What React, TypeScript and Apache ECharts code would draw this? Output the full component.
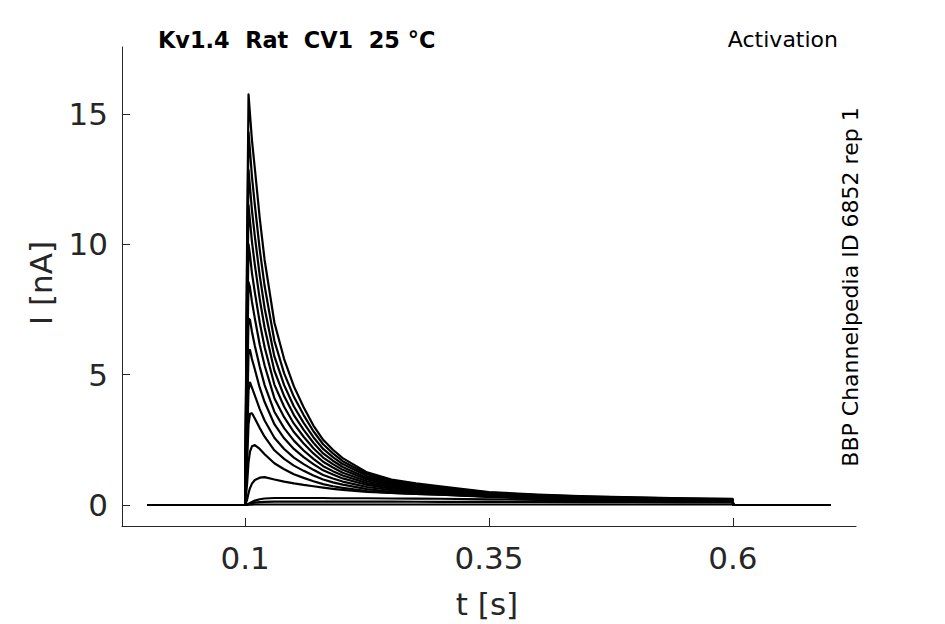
import React, { useEffect, useRef } from "react";
import * as echarts from "echarts";

// time grid (s)
const TIMES = [0, 0.1, 0.102, 0.1035, 0.105, 0.107, 0.11, 0.115, 0.12, 0.13, 0.14, 0.15, 0.16, 0.17, 0.18, 0.19, 0.2, 0.225, 0.25, 0.275, 0.3, 0.35, 0.4, 0.45, 0.5, 0.55, 0.5995, 0.6005, 0.7];

// current traces (nA), one per voltage step
const TRACE_1 = [0, 0, 10.0, 15.75, 15.0, 14.0, 12.9, 11.0, 9.4, 7.0, 5.6, 4.55, 3.75, 3.05, 2.5, 2.12, 1.8, 1.25, 0.98, 0.83, 0.72, 0.5, 0.4, 0.33, 0.29, 0.26, 0.24, 0, 0];
const TRACE_2 = [0, 0, 9.2, 14.3, 13.6, 12.6, 11.5, 9.8, 8.4, 6.3, 5.05, 4.15, 3.45, 2.83, 2.33, 1.98, 1.68, 1.18, 0.93, 0.79, 0.68, 0.48, 0.38, 0.32, 0.28, 0.25, 0.23, 0, 0];
const TRACE_3 = [0, 0, 8.3, 12.85, 12.2, 11.3, 10.3, 8.8, 7.55, 5.7, 4.6, 3.78, 3.15, 2.6, 2.15, 1.84, 1.57, 1.11, 0.88, 0.75, 0.65, 0.46, 0.37, 0.31, 0.27, 0.24, 0.22, 0, 0];
const TRACE_4 = [0, 0, 7.4, 11.5, 10.9, 10.1, 9.2, 7.9, 6.8, 5.15, 4.18, 3.45, 2.88, 2.39, 1.98, 1.7, 1.46, 1.04, 0.83, 0.71, 0.62, 0.44, 0.36, 0.3, 0.26, 0.23, 0.21, 0, 0];
const TRACE_5 = [0, 0, 6.4, 10.0, 9.6, 8.9, 8.15, 7.0, 6.05, 4.62, 3.77, 3.12, 2.62, 2.18, 1.82, 1.57, 1.35, 0.98, 0.78, 0.67, 0.59, 0.43, 0.35, 0.29, 0.25, 0.22, 0.2, 0, 0];
const TRACE_6 = [0, 0, 5.4, 8.55, 8.35, 7.8, 7.15, 6.15, 5.35, 4.1, 3.37, 2.8, 2.36, 1.98, 1.66, 1.44, 1.24, 0.91, 0.73, 0.63, 0.56, 0.41, 0.33, 0.28, 0.24, 0.21, 0.19, 0, 0];
const TRACE_7 = [0, 0, 4.4, 7.15, 7.1, 6.65, 6.1, 5.3, 4.6, 3.58, 2.95, 2.47, 2.09, 1.77, 1.49, 1.3, 1.13, 0.84, 0.68, 0.6, 0.53, 0.39, 0.32, 0.27, 0.23, 0.2, 0.18, 0, 0];
const TRACE_8 = [0, 0, 3.4, 5.8, 5.95, 5.6, 5.2, 4.5, 3.95, 3.1, 2.56, 2.15, 1.84, 1.57, 1.33, 1.17, 1.02, 0.77, 0.63, 0.56, 0.5, 0.37, 0.3, 0.25, 0.22, 0.19, 0.17, 0, 0];
const TRACE_9 = [0, 0, 2.4, 4.4, 4.7, 4.5, 4.2, 3.68, 3.24, 2.58, 2.15, 1.82, 1.57, 1.35, 1.15, 1.02, 0.9, 0.69, 0.57, 0.51, 0.46, 0.34, 0.28, 0.24, 0.21, 0.18, 0.16, 0, 0];
const TRACE_10 = [0, 0, 1.6, 3.1, 3.5, 3.52, 3.32, 2.95, 2.62, 2.1, 1.77, 1.51, 1.31, 1.13, 0.98, 0.87, 0.78, 0.61, 0.51, 0.46, 0.42, 0.32, 0.27, 0.23, 0.2, 0.17, 0.15, 0, 0];
const TRACE_11 = [0, 0, 0.8, 1.65, 2.05, 2.25, 2.3, 2.15, 1.95, 1.6, 1.37, 1.18, 1.04, 0.91, 0.8, 0.72, 0.66, 0.53, 0.46, 0.43, 0.4, 0.31, 0.25, 0.21, 0.18, 0.16, 0.14, 0, 0];
const TRACE_12 = [0, 0, 0.2, 0.45, 0.65, 0.82, 0.96, 1.05, 1.07, 0.98, 0.9, 0.83, 0.77, 0.72, 0.67, 0.62, 0.58, 0.5, 0.46, 0.43, 0.4, 0.33, 0.27, 0.23, 0.19, 0.16, 0.14, 0, 0];
const TRACE_13 = [0, 0, 0.02, 0.05, 0.08, 0.12, 0.17, 0.22, 0.25, 0.27, 0.27, 0.27, 0.27, 0.27, 0.27, 0.26, 0.26, 0.26, 0.25, 0.245, 0.24, 0.22, 0.2, 0.18, 0.16, 0.15, 0.13, 0, 0];
const TRACE_14 = [0, 0, 0.01, 0.03, 0.05, 0.07, 0.09, 0.11, 0.12, 0.13, 0.13, 0.13, 0.13, 0.13, 0.13, 0.13, 0.13, 0.13, 0.13, 0.125, 0.12, 0.12, 0.12, 0.11, 0.11, 0.1, 0.1, 0, 0];
const TRACE_15 = [0, 0, 0, 0.01, 0.01, 0.01, 0.02, 0.02, 0.02, 0.02, 0.02, 0.02, 0.02, 0.02, 0.02, 0.02, 0.02, 0.02, 0.02, 0.02, 0.02, 0.02, 0.02, 0.02, 0.02, 0.02, 0.02, 0, 0];

const TRACES = [TRACE_1, TRACE_2, TRACE_3, TRACE_4, TRACE_5, TRACE_6, TRACE_7, TRACE_8, TRACE_9, TRACE_10, TRACE_11, TRACE_12, TRACE_13, TRACE_14, TRACE_15];

const X_TICKS = [0.1, 0.35, 0.6];
const Y_TICKS = [0, 5, 10, 15];

const TITLE = "Kv1.4  Rat  CV1  25 °C";
const PROTOCOL = "Activation";
const SOURCE = "BBP Channelpedia ID 6852 rep 1";
const X_NAME = "t [s]";
const Y_NAME = "I [nA]";

export default function App() {
  const ref = useRef<HTMLDivElement>(null);
  useEffect(() => {
    document.body.style.margin = "0";
    const chart = echarts.init(ref.current!, null, { renderer: "svg" });
    const font = "DejaVu Sans";
    const axisColor = "#262626";
    const series = TRACES.map((vals, k) => ({
      type: "line",
      name: "trace" + (k + 1),
      data: TIMES.map((t, i) => [t, vals[i]]),
      symbol: "none",
      lineStyle: { color: "#000", width: 2.2, join: "round" },
      silent: true,
      z: 2,
    }));
    chart.setOption({
      animation: false,
      backgroundColor: "#fff",
      grid: { left: 122, right: 89, top: 47, bottom: 98, containLabel: false },
      xAxis: {
        type: "value",
        min: -0.0262,
        max: 0.7262,
        axisLine: { show: true, onZero: false, lineStyle: { color: axisColor, width: 1 } },
        axisTick: { show: true, inside: true, length: 8, customValues: X_TICKS, lineStyle: { color: axisColor } },
        axisLabel: {
          customValues: X_TICKS,
          color: axisColor,
          fontFamily: font,
          fontSize: 31,
          margin: 16,
          formatter: (v: number) => String(v),
        },
        splitLine: { show: false },
      },
      yAxis: {
        type: "value",
        min: -0.805,
        max: 17.57,
        axisLine: { show: true, onZero: false, lineStyle: { color: axisColor, width: 1 } },
        axisTick: { show: true, inside: true, length: 8, customValues: Y_TICKS, lineStyle: { color: axisColor } },
        axisLabel: {
          customValues: Y_TICKS,
          color: axisColor,
          fontFamily: font,
          fontSize: 31,
          margin: 14,
          formatter: (v: number) => String(v),
        },
        splitLine: { show: false },
      },
      series,
      graphic: [
        {
          type: "text",
          x: 158,
          y: 40,
          style: { text: TITLE, font: `bold 22.4px "${font}"`, fill: "#000", textAlign: "left", textVerticalAlign: "middle" },
        },
        {
          type: "text",
          x: 838,
          y: 39,
          style: { text: PROTOCOL, font: `22px "${font}"`, fill: "#000", textAlign: "right", textVerticalAlign: "middle" },
        },
        {
          type: "text",
          x: 850,
          y: 287,
          rotation: Math.PI / 2,
          style: { text: SOURCE, font: `22px "${font}"`, fill: "#000", textAlign: "center", textVerticalAlign: "middle" },
        },
        {
          type: "text",
          x: 487,
          y: 604,
          style: { text: X_NAME, font: `31px "${font}"`, fill: axisColor, textAlign: "center", textVerticalAlign: "middle" },
        },
        {
          type: "text",
          x: 41,
          y: 283,
          rotation: Math.PI / 2,
          style: { text: Y_NAME, font: `31px "${font}"`, fill: axisColor, textAlign: "center", textVerticalAlign: "middle" },
        },
      ],
    });
    return () => chart.dispose();
  }, []);
  return <div ref={ref} style={{ position: "fixed", left: 0, top: 0, width: 945, height: 624 }} />;
}
